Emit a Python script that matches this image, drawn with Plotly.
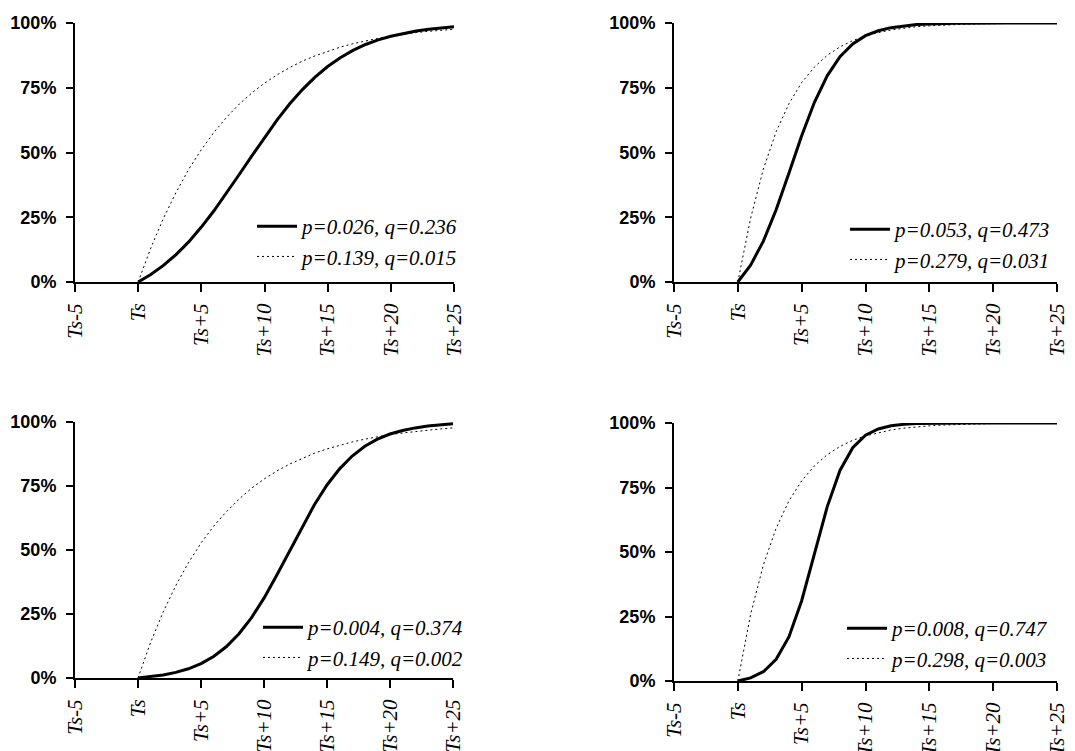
import plotly.graph_objects as go

# time offsets from Ts (years)
t = list(range(0, 26))
tick_vals = [-5, 0, 5, 10, 15, 20, 25]
tick_text = ["Ts-5", "Ts", "Ts+5", "Ts+10", "Ts+15", "Ts+20", "Ts+25"]
y_ticks = [0, 25, 50, 75, 100]
y_text = ["<b>0%</b>", "<b>25%</b>", "<b>50%</b>", "<b>75%</b>", "<b>100%</b>"]

# cumulative adoption (%)
tl_solid = [0, 2.9, 6.4, 10.6, 15.5, 21.2, 27.5, 34.3, 41.5, 48.7, 55.8, 62.6, 68.8,
            74.3, 79.1, 83.2, 86.6, 89.4, 91.7, 93.5, 94.9, 96.0, 96.9, 97.6, 98.2, 98.6]
tl_dot = [0, 13.1, 24.6, 34.6, 43.5, 51.1, 57.8, 63.6, 68.7, 73.0, 76.8, 80.0, 82.8,
          85.3, 87.3, 89.1, 90.7, 92.0, 93.1, 94.1, 94.9, 95.7, 96.3, 96.8, 97.3, 97.6]
tr_solid = [0, 6.5, 15.8, 27.9, 42.0, 56.5, 69.4, 79.6, 87.0, 91.9, 95.1, 97.0, 98.2,
            98.9, 99.4, 99.6, 99.8, 99.9, 99.9, 100.0, 100.0, 100.0, 100.0, 100.0, 100.0, 100.0]
tr_dot = [0, 24.6, 43.6, 58.0, 68.8, 77.0, 83.0, 87.5, 90.8, 93.2, 95.0, 96.3, 97.3,
          98.0, 98.6, 98.9, 99.2, 99.4, 99.6, 99.7, 99.8, 99.8, 99.9, 99.9, 99.9, 100.0]
bl_solid = [0, 0.5, 1.2, 2.2, 3.6, 5.6, 8.4, 12.2, 17.2, 23.5, 31.2, 40.0, 49.4,
            58.9, 67.7, 75.4, 81.7, 86.7, 90.5, 93.3, 95.3, 96.7, 97.7, 98.4, 98.9, 99.3]
bl_dot = [0, 13.9, 25.8, 36.1, 45.0, 52.7, 59.3, 64.9, 69.8, 74.1, 77.7, 80.8, 83.5,
          85.8, 87.8, 89.5, 91.0, 92.2, 93.3, 94.3, 95.1, 95.7, 96.3, 96.9, 97.3, 97.7]
br_solid = [0, 1.2, 3.6, 8.4, 17.1, 31.1, 49.3, 67.5, 81.6, 90.4, 95.3, 97.7, 98.9,
            99.5, 99.8, 99.9, 99.9, 100.0, 100.0, 100.0, 100.0, 100.0, 100.0, 100.0, 100.0, 100.0]
br_dot = [0, 25.8, 45.0, 59.2, 69.8, 77.6, 83.4, 87.7, 90.9, 93.3, 95.0, 96.3, 97.3,
          98.0, 98.5, 98.9, 99.2, 99.4, 99.6, 99.7, 99.8, 99.8, 99.9, 99.9, 99.9, 99.9]

labels = [
    ("p=0.026, q=0.236", "p=0.139, q=0.015"),
    ("p=0.053, q=0.473", "p=0.279, q=0.031"),
    ("p=0.004, q=0.374", "p=0.149, q=0.002"),
    ("p=0.008, q=0.747", "p=0.298, q=0.003"),
]
series = [(tl_solid, tl_dot), (tr_solid, tr_dot), (bl_solid, bl_dot), (br_solid, br_dot)]

W, H = 1075, 751
# panel boxes in pixels: (left, right, top, bottom)
boxes = [(75, 454, 23, 282), (674, 1057, 23, 282),
         (75, 453, 422, 678), (674, 1057, 423, 681)]
# legend anchor (pixel left, pixel top)
leg_pos = [(252, 206), (845, 209), (258, 607), (842, 608)]

serif = "Liberation Serif, Times New Roman, serif"
sans = "Liberation Sans, Arial, sans-serif"

fig = go.Figure()
layout = dict(width=W, height=H, margin=dict(l=0, r=0, t=0, b=0, autoexpand=False),
              paper_bgcolor="white", plot_bgcolor="white", showlegend=True)

for i, ((s, d), (l1, l2), (L, R, T, B), (lx, ly)) in enumerate(zip(series, labels, boxes, leg_pos)):
    n = "" if i == 0 else str(i + 1)
    leg = "legend" + n
    fig.add_trace(go.Scatter(x=t, y=s, mode="lines", name=l1,
                             line=dict(color="black", width=3),
                             xaxis="x" + n, yaxis="y" + n, legend=leg, legendgroup=f"a{i}"))
    fig.add_trace(go.Scatter(x=t, y=d, mode="lines", name=l2,
                             line=dict(color="black", width=1, dash="2px,3px"),
                             xaxis="x" + n, yaxis="y" + n, legend=leg, legendgroup=f"b{i}"))
    layout["xaxis" + n] = dict(
        domain=[L / W, R / W], anchor="y" + n, range=[-5, 25],
        tickvals=tick_vals, ticktext=tick_text, tickangle=-90,
        showline=True, linecolor="black", linewidth=2,
        ticks="outside", ticklen=8, tickwidth=2, tickcolor="black",
        ticklabelstandoff=3,
        showgrid=False, zeroline=False,
        tickfont=dict(family=serif, size=21, color="black", style="italic"))
    layout["yaxis" + n] = dict(
        domain=[1 - B / H, 1 - T / H], anchor="x" + n, range=[0, 100],
        tickvals=y_ticks, ticktext=y_text,
        showline=True, linecolor="black", linewidth=2,
        ticks="outside", ticklen=7, tickwidth=2, tickcolor="black",
        ticklabelstandoff=6,
        showgrid=False, zeroline=False,
        tickfont=dict(family=sans, size=18, color="black"))
    layout[leg] = dict(x=lx / W, y=1 - ly / H, xanchor="left", yanchor="top",
                       bgcolor="rgba(0,0,0,0)", borderwidth=0, itemwidth=40,
                       tracegroupgap=0,
                       font=dict(family=serif, size=21, color="black", style="italic"))

fig.update_layout(**layout)
fig.write_html("out.html")
